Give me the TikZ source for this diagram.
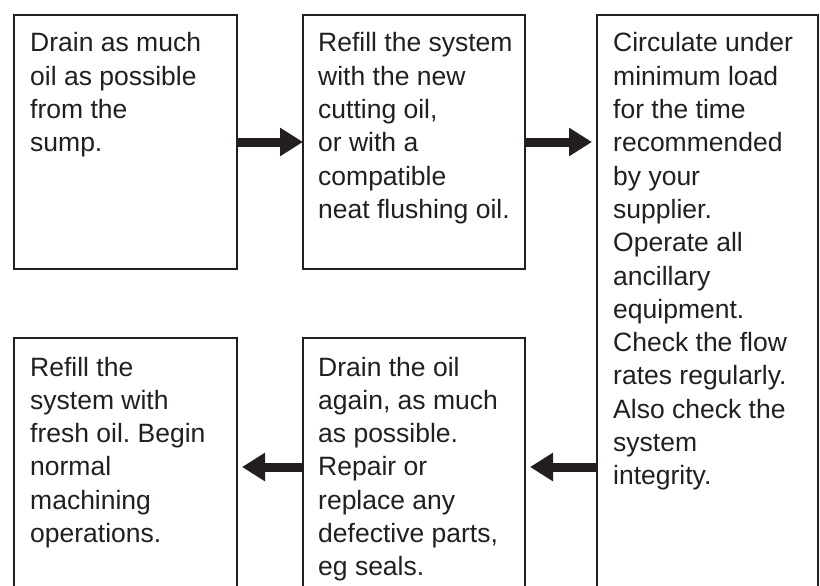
\documentclass[tikz,border=0pt]{standalone}
\usepackage{fontspec}
\setmainfont{Liberation Sans}
\usetikzlibrary{arrows.meta}
\definecolor{ink}{RGB}{35,31,32}
\frenchspacing
\tikzset{
  box/.style={draw=ink, line width=2.5pt, rectangle, inner sep=0pt, outer sep=0pt},
  txt/.style={anchor=base west, inner sep=0pt, text=ink,
    font=\fontsize{26.5}{33.3}\selectfont},
  fatarrow/.style={draw=ink, line width=9pt,
    -{Triangle[length=23pt,width=27pt]}}
}
\begin{document}
\begin{tikzpicture}[x=1pt,y=-1pt]
\useasboundingbox (0,0) rectangle (820,586);
\fill[white] (0,0) rectangle (820,586);
\clip (0,0) rectangle (820,586);
% boxes
\node[box, minimum width=223pt, minimum height=254pt] (b1) at (125.5,142) {};
\node[box, minimum width=222pt, minimum height=254pt] (b2) at (414,142) {};
\node[box, minimum width=221pt, minimum height=585pt] (b3) at (707.5,307.5) {};
\node[box, minimum width=223pt, minimum height=258pt] (b4) at (125.5,467) {};
\node[box, minimum width=222pt, minimum height=258pt] (b5) at (414,467) {};
% texts
\node[txt] (t1) at (30,52) {\begin{tabular}[t]{@{}l@{}}Drain as much\\oil as possible\\from the\\sump.\end{tabular}};
\node[txt] (t2) at (318,52) {\begin{tabular}[t]{@{}l@{}}Refill the system\\with the new\\cutting oil,\\or with a\\compatible\\neat flushing oil.\end{tabular}};
\node[txt] (t3) at (613,52) {\begin{tabular}[t]{@{}l@{}}Circulate under\\minimum load\\for the time\\recommended\\by your\\supplier.\\Operate all\\ancillary\\equipment.\\Check the flow\\rates regularly.\\Also check the\\system\\integrity.\end{tabular}};
\node[txt] (t4) at (30,376) {\begin{tabular}[t]{@{}l@{}}Refill the\\system with\\fresh oil. Begin\\normal\\machining\\operations.\end{tabular}};
\node[txt] (t5) at (318,376) {\begin{tabular}[t]{@{}l@{}}Drain the oil\\again, as much\\as possible.\\Repair or\\replace any\\defective parts,\\eg seals.\end{tabular}};
% arrows
\draw[fatarrow] (b1.east) -- (b2.west);
\draw[fatarrow, shorten >=5pt] (b2.east) -- (b2.east -| b3.west);
\draw[fatarrow, shorten >=5pt] (b5.east -| b3.west) -- (b5.east);
\draw[fatarrow, shorten >=5pt] (b5.west) -- (b4.east);
\end{tikzpicture}
\end{document}
